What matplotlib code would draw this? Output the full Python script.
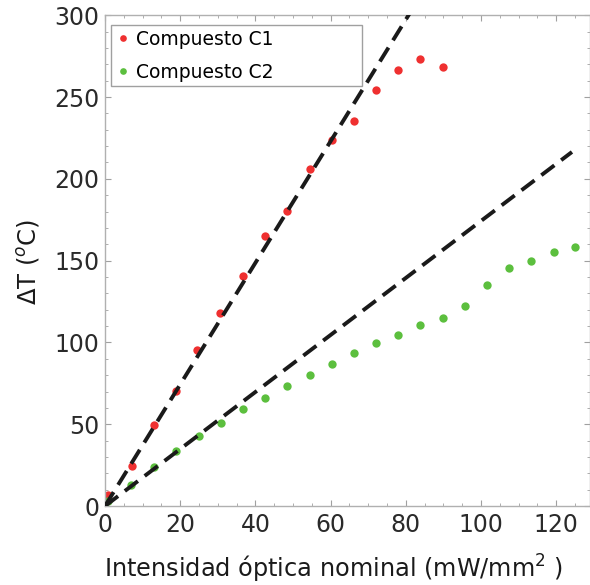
import matplotlib
matplotlib.use("Agg")
import matplotlib.pyplot as plt
from matplotlib.ticker import MultipleLocator

# Data
c1_x = [0.9, 7.1, 12.9, 18.9, 24.5, 30.7, 36.6, 42.5, 48.4, 54.4, 60.3, 66.2, 72.0, 77.9, 83.9, 89.8]
c1_y = [6.7, 24.7, 49.3, 70.6, 95.3, 118.2, 140.7, 164.8, 180.4, 205.7, 223.5, 235.4, 254.2, 266.3, 273.2, 268.3]
c2_x = [0.9, 6.8, 12.9, 18.9, 24.9, 30.8, 36.7, 42.5, 48.4, 54.4, 60.3, 66.2, 72.1, 77.9, 83.8,
        89.8, 95.7, 101.5, 107.5, 113.3, 119.3, 125.1]
c2_y = [3.0, 12.9, 23.7, 33.7, 42.5, 50.7, 59.3, 66.0, 73.2, 79.9, 86.9, 93.3, 99.8, 104.5, 110.6,
        115.1, 122.3, 135.4, 145.4, 149.7, 155.4, 158.1]
fit1_x = [0, 81.0]
fit1_y = [0, 301.0]
fit2_x = [0, 124.2]
fit2_y = [0, 216.4]
labels = ["Compuesto C1", "Compuesto C2"]

fig = plt.figure(figsize=(5.9, 5.85), dpi=100)
ax = fig.add_axes([0.178, 0.135, 0.822, 0.839])

ax.plot(c1_x, c1_y, 'o', color='#ef3030', ms=6, mec='none', label=labels[0], zorder=2)
ax.plot(c2_x, c2_y, 'o', color='#5cbf3e', ms=6, mec='none', label=labels[1], zorder=2)
ax.plot(fit1_x, fit1_y, color='#1a1a1a', lw=2.8, dashes=(4.2, 2.2), zorder=3)
ax.plot(fit2_x, fit2_y, color='#1a1a1a', lw=2.8, dashes=(4.2, 2.2), zorder=3)

ax.set_xlim(0, 129)
ax.set_ylim(0, 300)
ax.xaxis.set_major_locator(MultipleLocator(20))
ax.xaxis.set_minor_locator(MultipleLocator(5))
ax.yaxis.set_major_locator(MultipleLocator(50))
ax.yaxis.set_minor_locator(MultipleLocator(10))

for s in ax.spines.values():
    s.set_color('#b0b0b0')
    s.set_linewidth(1.0)
ax.tick_params(which='both', direction='in', top=True, right=True, colors='#a0a0a0',
               labelcolor='#2a2a2a', labelsize=17)
ax.tick_params(which='major', length=4, width=0.8)
ax.tick_params(which='minor', length=2.5, width=0.6)
ax.tick_params(axis='x', pad=5)
ax.tick_params(axis='y', pad=4)

ax.set_xlabel("Intensidad óptica nominal (mW/mm$^2$ )", fontsize=17.3, color='#1a1a1a')
ax.xaxis.set_label_coords(0.472, -0.096)
ax.set_ylabel("ΔT ($^o$C)", fontsize=17.5, color='#1a1a1a')
ax.yaxis.set_label_coords(-0.13, 0.497)

leg = ax.legend(loc='upper left', fontsize=13.5, frameon=True, fancybox=False,
                bbox_to_anchor=(0.012, 0.862, 0.518, 0.118), mode='expand', borderaxespad=0,
                handletextpad=0.3, handlelength=0.8, markerscale=0.8, borderpad=0.25,
                labelspacing=0.75)
leg.get_frame().set_edgecolor('#888888')
leg.get_frame().set_linewidth(1.0)

fig.savefig("out.png", dpi=100)
